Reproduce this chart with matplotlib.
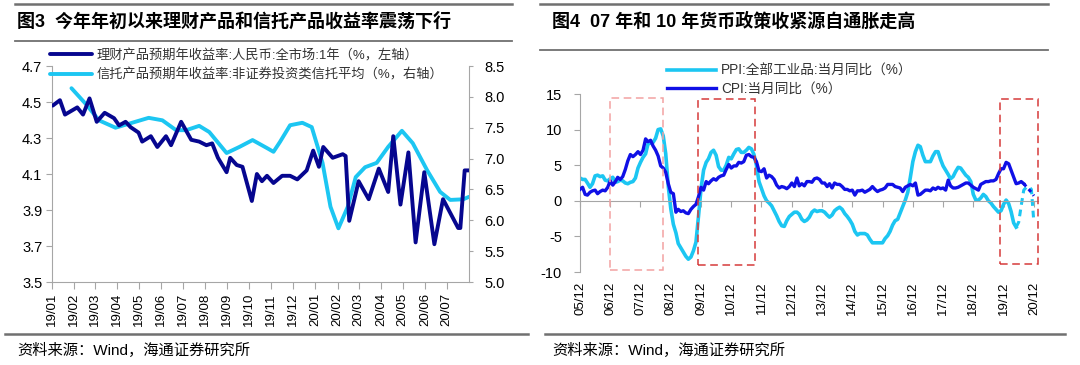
import matplotlib
matplotlib.use("Agg")
import matplotlib.pyplot as plt
import matplotlib.dates as mdates
import pandas as pd
from matplotlib.lines import Line2D
from matplotlib.patches import Rectangle

plt.rcParams['font.family'] = ['Liberation Sans', 'Noto Sans CJK SC']
plt.rcParams['axes.unicode_minus'] = False

# ================= 图3 data =================
wmp_dates = ['2019-01-02', '2019-01-12', '2019-01-19', '2019-02-05', '2019-02-13', '2019-02-22',
             '2019-03-04', '2019-03-15', '2019-03-28', '2019-04-04', '2019-04-13', '2019-04-20',
             '2019-05-01', '2019-05-06', '2019-05-18', '2019-05-27', '2019-06-08', '2019-06-15',
             '2019-06-29', '2019-07-13', '2019-07-24', '2019-08-03', '2019-08-11', '2019-08-19',
             '2019-08-31', '2019-09-05', '2019-09-14', '2019-09-22', '2019-10-05', '2019-10-12',
             '2019-10-19', '2019-10-26', '2019-11-04', '2019-11-16', '2019-11-27', '2019-12-07',
             '2019-12-20', '2019-12-29', '2020-01-06', '2020-01-12', '2020-01-25', '2020-02-08',
             '2020-02-12', '2020-02-17', '2020-03-01', '2020-03-15', '2020-03-29', '2020-04-11',
             '2020-04-18', '2020-04-28', '2020-05-09', '2020-05-19', '2020-05-31', '2020-06-14',
             '2020-06-26', '2020-07-17', '2020-07-20', '2020-07-26', '2020-08-01']
wmp_yield = [4.48, 4.51, 4.43, 4.47, 4.43, 4.52,
             4.39, 4.44, 4.41, 4.37, 4.39, 4.36,
             4.33, 4.28, 4.31, 4.25, 4.31, 4.26,
             4.39, 4.29, 4.28, 4.26, 4.27, 4.19,
             4.11, 4.19, 4.15, 4.14, 3.95, 4.10,
             4.06, 4.09, 4.05, 4.09, 4.09, 4.07,
             4.12, 4.23, 4.14, 4.25, 4.19, 4.21,
             4.20, 3.84, 4.06, 3.96, 4.13, 4.00,
             4.31, 3.93, 4.22, 3.72, 4.11, 3.71,
             3.96, 3.80, 3.80, 4.12, 4.12]

trust_dates = ['2019-01-28', '2019-02-18', '2019-03-07', '2019-03-30', '2019-04-22', '2019-05-15',
               '2019-06-03', '2019-06-22', '2019-07-06', '2019-07-24', '2019-08-07', '2019-08-31',
               '2019-09-18', '2019-10-06', '2019-10-26', '2019-11-04', '2019-11-13', '2019-11-27',
               '2019-12-14', '2019-12-27', '2020-01-11', '2020-01-22', '2020-02-02', '2020-02-15',
               '2020-02-26', '2020-03-10', '2020-03-26', '2020-04-11', '2020-04-30', '2020-05-15',
               '2020-06-04', '2020-06-22', '2020-07-06', '2020-07-24', '2020-08-01']
trust_yield = [8.14, 7.87, 7.62, 7.50, 7.58, 7.66,
               7.62, 7.46, 7.46, 7.53, 7.43, 7.09,
               7.19, 7.30, 7.17, 7.11, 7.27, 7.54,
               7.58, 7.51, 6.93, 6.22, 5.87, 6.22,
               6.70, 6.86, 6.93, 7.19, 7.45, 7.25,
               6.81, 6.46, 6.33, 6.34, 6.38]

left_ticks = [3.5, 3.7, 3.9, 4.1, 4.3, 4.5, 4.7]
right_ticks = [5.0, 5.5, 6.0, 6.5, 7.0, 7.5, 8.0, 8.5]

# ================= 图4 data (monthly, from 2005-12) =================
cpi = [1.6,
       1.9, 0.9, 0.8, 1.2, 1.4, 1.5, 1.0, 1.3, 1.5, 1.4, 1.9, 2.8,
       2.2, 2.7, 3.3, 3.0, 3.4, 4.4, 5.6, 6.5, 6.2, 6.5, 6.9, 6.5,
       7.1, 8.7, 8.3, 8.5, 7.7, 7.1, 6.3, 4.9, 4.6, 4.0, 2.4, 1.2,
       1.0, -1.6, -1.2, -1.5, -1.4, -1.7, -1.8, -1.2, -0.8, -0.5, 0.6, 1.9,
       1.5, 2.7, 2.4, 2.8, 3.1, 2.9, 3.3, 3.5, 3.6, 4.4, 5.1, 4.6,
       4.9, 4.9, 5.4, 5.3, 5.5, 6.4, 6.5, 6.2, 6.1, 5.5, 4.2, 4.1,
       4.5, 3.2, 3.6, 3.4, 3.0, 2.2, 1.8, 2.0, 1.9, 1.7, 2.0, 2.5,
       2.0, 3.2, 2.1, 2.4, 2.1, 2.7, 2.7, 2.6, 3.1, 3.2, 3.0, 2.5,
       2.5, 2.0, 2.4, 1.8, 2.5, 2.3, 2.3, 2.0, 1.6, 1.6, 1.4, 1.5,
       0.8, 1.4, 1.4, 1.5, 1.2, 1.4, 1.6, 2.0, 1.6, 1.3, 1.5, 1.6,
       1.8, 2.3, 2.3, 2.3, 2.0, 1.9, 1.8, 1.3, 1.9, 2.1, 2.3, 2.1,
       2.5, 0.8, 0.9, 1.2, 1.5, 1.5, 1.4, 1.8, 1.6, 1.9, 1.7, 1.8,
       1.5, 2.9, 2.1, 1.8, 1.8, 1.9, 2.1, 2.3, 2.5, 2.5, 2.2, 1.9,
       1.7, 1.5, 2.3, 2.5, 2.7, 2.7, 2.8, 2.8, 3.0, 3.8, 4.5, 4.5,
       5.4, 5.2, 4.3, 3.3, 2.4, 2.5, 2.7, 2.4]
ppi = [3.2,
       3.0, 3.0, 2.5, 1.9, 2.4, 3.5, 3.6, 3.4, 3.5, 2.9, 2.8, 3.1,
       3.3, 2.6, 2.7, 2.9, 2.8, 2.5, 2.4, 2.6, 2.7, 3.2, 4.6, 5.4,
       6.1, 6.6, 8.0, 8.1, 8.2, 8.8, 10.0, 10.1, 9.1, 6.6, 2.0, -1.1,
       -3.3, -4.5, -6.0, -6.6, -7.2, -7.8, -8.2, -7.9, -7.0, -5.8, -2.1, 1.7,
       4.3, 5.4, 5.9, 6.8, 7.1, 6.4, 4.8, 4.3, 4.3, 5.0, 6.1, 5.9,
       6.6, 7.2, 7.3, 6.8, 6.8, 7.1, 7.5, 7.3, 6.5, 5.0, 2.7, 1.7,
       0.7, 0.0, -0.3, -0.7, -1.4, -2.1, -2.9, -3.5, -3.6, -2.8, -2.2, -1.9,
       -1.6, -1.6, -1.9, -2.6, -2.9, -2.7, -2.3, -1.6, -1.3, -1.5, -1.4, -1.4,
       -1.6, -2.0, -2.3, -2.0, -1.4, -1.1, -0.9, -1.2, -1.8, -2.2, -2.7, -3.3,
       -4.3, -4.8, -4.6, -4.6, -4.6, -4.8, -5.4, -5.9, -5.9, -5.9, -5.9, -5.9,
       -5.3, -4.9, -4.3, -3.4, -2.8, -2.6, -1.7, -0.8, 0.1, 1.2, 3.3, 5.5,
       6.9, 7.8, 7.6, 6.4, 5.5, 5.5, 5.5, 6.3, 6.9, 6.9, 5.8, 4.9,
       4.3, 3.7, 3.1, 3.4, 4.1, 4.7, 4.6, 4.1, 3.6, 3.3, 2.7, 0.9,
       0.1, 0.1, 0.4, 0.9, 0.6, 0.0, -0.3, -0.8, -1.2, -1.6, -1.4, -0.5,
       0.1, -0.4, -1.5, -3.1, -3.7]
# dashed tails (forecast), start at last actual month
cpi_fcst = [2.4, 2.0, 1.6, 1.2, 0.7]                    # 2020-08 .. 2020-12
ppi_fcst = [-3.7, -3.0, -0.7, 1.5, 1.9, 2.0, 1.6, -3.0]  # 2020-05 .. 2020-12

# highlighted tightening periods: start, end, low, high
highlight_start = ['2006-12-01', '2009-10-20', '2019-10-25']
highlight_end = ['2008-08-25', '2011-09-10', '2021-01-15']
highlight_low = [-9.7, -9.0, -8.9]
highlight_high = [14.5, 14.3, 14.3]

GREY = '#A6A6A6'
NAVY = '#06068F'
CYAN = '#1CC6F2'
BLUE = '#1010E6'

fig = plt.figure(figsize=(10.8, 3.65), dpi=100)
W, H = 1080.0, 365.0


def fx(px):
    return px / W


def fy(py):
    return 1 - py / H


# ---------- header/footer rules and texts ----------
for x0, x1, y, lw in [(15, 512, 4, 1.8), (15, 512, 41, 1.3), (5, 528, 334, 1.8),
                      (540, 1048, 4, 1.8), (540, 1048, 50, 1.3), (545, 1065, 334, 1.8)]:
    fig.add_artist(Line2D([fx(x0), fx(x1)], [fy(y), fy(y)], color='#707070', lw=lw))

fig.text(fx(17), fy(22), '图3  今年年初以来理财产品和信托产品收益率震荡下行',
         fontsize=13, fontweight='bold', va='center', ha='left')
fig.text(fx(552), fy(22), '图4  07 年和 10 年货币政策收紧源自通胀走高',
         fontsize=13, fontweight='bold', va='center', ha='left')
fig.text(fx(17), fy(350), '资料来源：Wind，海通证券研究所', fontsize=11, va='center')
fig.text(fx(552), fy(350), '资料来源：Wind，海通证券研究所', fontsize=11, va='center')

# ---------- 图3 ----------
ax1 = fig.add_axes([fx(52), fy(282), fx(469 - 52), (282 - 66) / H])
ax1r = ax1.twinx()

l1, = ax1.plot(pd.to_datetime(wmp_dates), wmp_yield, color=NAVY, lw=2.8,
               solid_joinstyle='round', solid_capstyle='round', zorder=3)
l2, = ax1r.plot(pd.to_datetime(trust_dates), trust_yield, color=CYAN, lw=2.8,
                solid_joinstyle='round', solid_capstyle='round')
ax1.set_zorder(ax1r.get_zorder() + 1)
ax1.patch.set_visible(False)

ax1.set_xlim(pd.Timestamp('2019-01-01'), pd.Timestamp('2020-08-01'))
ax1.set_ylim(3.5, 4.7)
ax1r.set_ylim(5.0, 8.5)
ax1.set_yticks(left_ticks, [f'{v:.1f}' for v in left_ticks])
ax1r.set_yticks(right_ticks, [f'{v:.1f}' for v in right_ticks])
months = pd.date_range('2019-01-01', '2020-07-01', freq='MS')
ax1.set_xticks(months, [d.strftime('%y/%m') for d in months], rotation=90)

for s in ['top', 'right']:
    ax1.spines[s].set_visible(False)
for s in ['top', 'left', 'bottom']:
    ax1r.spines[s].set_visible(False)
for s in ['left', 'bottom']:
    ax1.spines[s].set_color(GREY)
ax1r.spines['right'].set_color(GREY)
ax1.tick_params(axis='y', colors=GREY, labelcolor='black', length=4, labelsize=10.5, pad=3)
ax1.tick_params(axis='x', colors=GREY, labelcolor='black', length=5, labelsize=9.5, pad=3)
ax1r.tick_params(axis='y', colors=GREY, labelcolor='black', length=3, labelsize=10.5, pad=8)

fig.legend([l1, l2], ['理财产品预期年收益率:人民币:全市场:1年（%，左轴）',
                      '信托产品预期年收益率:非证券投资类信托平均（%，右轴）'],
           loc='upper left', bbox_to_anchor=(fx(50), fy(49)), frameon=False,
           fontsize=9.5, handlelength=3.2, handletextpad=0.3, labelspacing=0.5,
           borderpad=0, borderaxespad=0, labelcolor='#333333')

# ---------- 图4 ----------
ax2 = fig.add_axes([fx(580), fy(272), fx(1038 - 580), (272 - 94) / H])
m_cpi = pd.date_range('2005-12-01', periods=len(cpi), freq='MS')
m_ppi = pd.date_range('2005-12-01', periods=len(ppi), freq='MS')
m_cpi_f = pd.date_range(m_cpi[-1], periods=len(cpi_fcst), freq='MS')
m_ppi_f = pd.date_range(m_ppi[-1], periods=len(ppi_fcst), freq='MS')

for i in range(len(highlight_start)):
    s0 = mdates.date2num(pd.Timestamp(highlight_start[i]))
    s1 = mdates.date2num(pd.Timestamp(highlight_end[i]))
    col = '#F2A2A2' if i == 0 else '#D63A3A'
    ax2.add_patch(Rectangle((s0, highlight_low[i]), s1 - s0,
                            highlight_high[i] - highlight_low[i], fill=False,
                            edgecolor=col, lw=1.1, ls=(0, (5, 3)), zorder=4, clip_on=False))

p1, = ax2.plot(m_ppi, ppi, color=CYAN, lw=2.6, zorder=2)
p2, = ax2.plot(m_cpi, cpi, color=BLUE, lw=2.4, zorder=3)
ax2.plot(m_ppi_f, ppi_fcst, color=CYAN, lw=2.2, ls=(0, (2.2, 1.6)), zorder=2)
ax2.plot(m_cpi_f, cpi_fcst, color=BLUE, lw=2.2, ls=(0, (1.2, 1.2)), zorder=3)

ax2.set_xlim(pd.Timestamp('2005-12-01'), pd.Timestamp('2021-01-20'))
ax2.set_ylim(-10, 15)
ax2.set_yticks([-10, -5, 0, 5, 10, 15])
years = pd.date_range('2005-12-01', '2020-12-01', freq='12MS')
ax2.set_xticks(years)
ax2.tick_params(axis='x', labelbottom=False, colors=GREY, length=4)
ax2.tick_params(axis='y', colors=GREY, labelcolor='black', length=4, labelsize=10.5, pad=9)
ax2.spines['bottom'].set_position(('data', 0))
for s in ['top', 'right']:
    ax2.spines[s].set_visible(False)
for s in ['left', 'bottom']:
    ax2.spines[s].set_color(GREY)

sec = ax2.secondary_xaxis(0.0)
sec.set_xticks(mdates.date2num(years), [d.strftime('%y/%m') for d in years], rotation=90)
sec.tick_params(length=0, labelsize=9.5, pad=7)
sec.spines['bottom'].set_visible(False)

fig.legend([p1, p2], ['PPI:全部工业品:当月同比（%）', 'CPI:当月同比（%）'],
           loc='upper left', bbox_to_anchor=(fx(667), fy(64)), frameon=False,
           fontsize=9.8, handlelength=3.6, handletextpad=0.35, labelspacing=0.25,
           borderpad=0, borderaxespad=0, labelcolor='#333333')

fig.savefig('out.png', dpi=100)
